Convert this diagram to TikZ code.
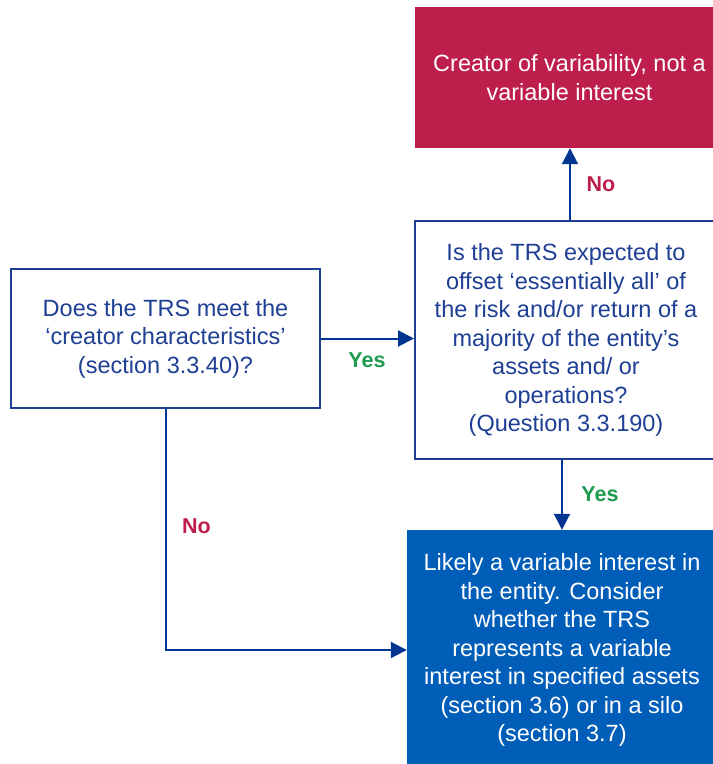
\documentclass[tikz,border=0pt]{standalone}
\usepackage{fontspec}
\setmainfont{Liberation Sans}
\usetikzlibrary{arrows.meta,positioning}
\definecolor{navy}{HTML}{1E3F94}
\definecolor{arrowblue}{HTML}{003591}
\definecolor{crimson}{HTML}{BE1E4B}
\definecolor{boxblue}{HTML}{005EB8}
\definecolor{yesgreen}{HTML}{1E9B4F}
\tikzset{
  body/.style={font=\fontsize{23.5}{28.5}\selectfont, align=center, inner sep=0pt},
  qbox/.style={body, draw=navy, line width=2pt, fill=white, text=navy},
  redbox/.style={body, fill=crimson, text=white},
  bluebox/.style={body, fill=boxblue, text=white},
  arr/.style={draw=arrowblue, line width=2pt, -{Triangle[length=16pt,width=16pt]}},
  lab/.style={font=\fontsize{21.5}{24}\selectfont\bfseries, inner sep=0pt},
}
\begin{document}
\begin{tikzpicture}[x=1pt,y=-1pt]
\useasboundingbox (0,0) rectangle (713,764);
\clip (0,0) rectangle (713,764);
\node[redbox, minimum width=309pt, minimum height=141pt] (red) at (569.5,77.5)
  {Creator of variability, not a\\variable interest};
\node[qbox, minimum width=302pt, minimum height=238pt] (right) at (566,340)
  {Is the TRS expected to\\offset ‘essentially all’ of\\the risk and/or return of a\\majority of the entity’s\\assets and/ or\\operations?\\(Question 3.3.190)};
\node[qbox, minimum width=309pt, minimum height=139pt] (left) at (165.5,338.5)
  {Does the TRS meet the\\‘creator characteristics’\\(section 3.3.40)?};
\node[bluebox, minimum width=310pt, minimum height=240pt] (blue) at (562,650)
  {Likely a variable interest in\\the entity. Consider\\whether the TRS\\represents a variable\\interest in specified assets\\(section 3.6) or in a silo\\(section 3.7)};
\coordinate (upx) at (570,0);
\draw[arr] (left.east) -- (left.east -| right.west);
\draw[arr] (right.north -| upx) -- (red.south -| upx);
\draw[arr] (right.south -| blue.north) -- (blue.north);
\draw[arr] (left.south) |- (blue.west);
\node[lab, text=yesgreen] (yes1) at (367,360.5) {Yes};
\node[lab, text=crimson] (no1) at (601,184.5) {No};
\node[lab, text=yesgreen] (yes2) at (600,494.5) {Yes};
\node[lab, text=crimson] (no2) at (196.5,526) {No};
\end{tikzpicture}
\end{document}
